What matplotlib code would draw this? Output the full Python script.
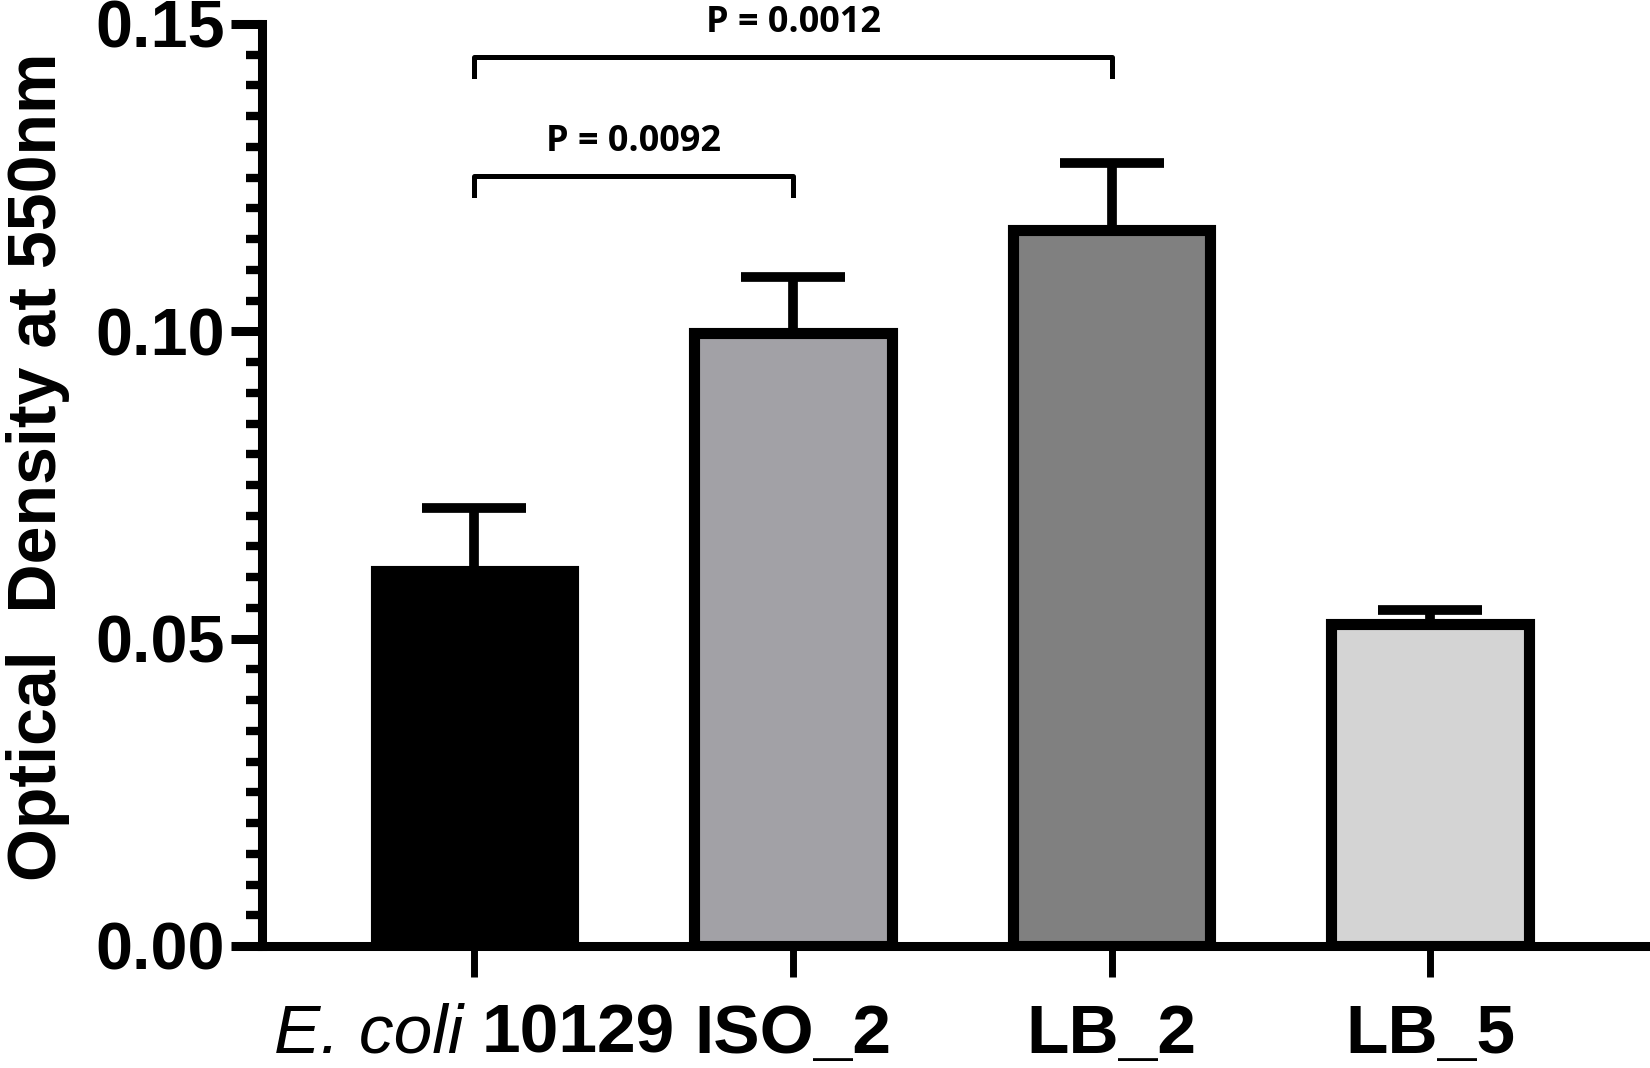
import numpy as np
import matplotlib
matplotlib.use("Agg")
import matplotlib.pyplot as plt
from matplotlib.offsetbox import TextArea, HPacker, AnnotationBbox

plt.rcParams['font.family'] = ['Liberation Sans', 'DejaVu Sans']

# data
strains = ["E. coli|10129", "ISO_2", "LB_2", "LB_5"]
od_mean = [0.0610, 0.0997, 0.1165, 0.0524]
od_sem = [0.0103, 0.0091, 0.0109, 0.0023]
bar_colors = ["#000000", "#a2a1a6", "#808080", "#d4d4d4"]

pairs = [(0, 1), (0, 2)]
p_text = ["P = 0.0092", "P = 0.0012"]

x = np.arange(len(strains))
xfs = 50  # x tick label size

fig = plt.figure(figsize=(16.5, 10.68), dpi=100)
ax = fig.add_axes([262/1650, 1 - 946/1068, (1648 - 262)/1650, (946 - 24)/1068])

ax.bar(x, od_mean, width=0.62, color=bar_colors, edgecolor="black",
       linewidth=8, zorder=3)
ax.errorbar(x, od_mean, yerr=[np.zeros(len(x)), od_sem], fmt="none",
            ecolor="black", elinewidth=7, capsize=37.8, capthick=7, zorder=2)

# significance brackets
bracket_y = [0.1252, 0.1446]
leg = 0.0031
for (a, b), yb, txt in zip(pairs, bracket_y, p_text):
    ax.plot([a, a, b, b], [yb - leg, yb, yb, yb - leg], color="black",
            lw=3.6, solid_joinstyle="round", clip_on=False, zorder=4)
    ax.text((a + b) / 2, yb + 0.0041, txt, ha="center", va="baseline",
            fontsize=26, fontweight="bold", family=["Open Sans", "DejaVu Sans"])

ax.set_xlim(-0.667, 3.684)
ax.set_ylim(0, 0.15)
ax.set_yticks([0, 0.05, 0.10, 0.15])
ax.set_yticklabels(["0.00", "0.05", "0.10", "0.15"])
ax.set_yticks(np.arange(0, 0.1501, 0.005), minor=True)
ax.set_xticks(x)
# first label mixes italic species name and bold strain number
ax.set_xticklabels([""] + strains[1:])
sp, num = strains[0].split("|")
lab0 = HPacker(children=[TextArea(sp, textprops=dict(fontsize=xfs, style="italic")),
                         TextArea(num, textprops=dict(fontsize=xfs, fontweight="bold"))],
               pad=0, sep=13, align="baseline")
ax.add_artist(AnnotationBbox(lab0, (x[0], 0), xycoords=ax.get_xaxis_transform(),
                             xybox=(0, -41), boxcoords="offset points",
                             box_alignment=(0.5, 1), frameon=False,
                             annotation_clip=False))

for s in ["top", "right"]:
    ax.spines[s].set_visible(False)
for s in ["left", "bottom"]:
    ax.spines[s].set_linewidth(6.5)
    ax.spines[s].set_capstyle("projecting")

ax.tick_params(axis="y", which="major", length=22, width=6.5, pad=5,
               labelsize=48)
ax.tick_params(axis="y", which="minor", length=11.5, width=6)
ax.tick_params(axis="x", which="major", length=22, width=5, pad=19,
               labelsize=xfs)
for lab in ax.get_yticklabels() + ax.get_xticklabels():
    lab.set_fontweight("bold")

ax.set_ylabel("Optical  Density at 550nm", fontsize=49, fontweight="bold")
ax.yaxis.set_label_coords(-0.1385, 0.5195)

fig.savefig("out.png", dpi=100)
